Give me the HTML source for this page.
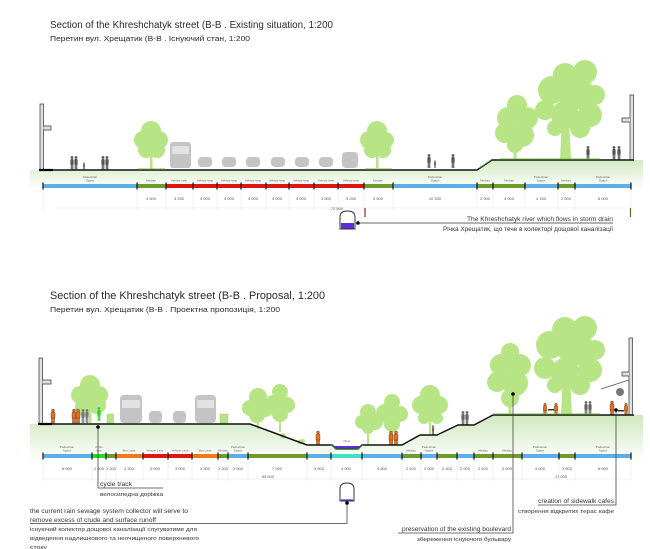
<!DOCTYPE html>
<html><head><meta charset="utf-8"><style>
html,body{margin:0;padding:0;background:#fff;}
svg{display:block;}
text{font-family:"Liberation Sans","DejaVu Sans",sans-serif;}
</style></head><body>
<svg width="650" height="549" viewBox="0 0 650 549" xmlns="http://www.w3.org/2000/svg">
<defs>
<linearGradient id="g1" x1="0" y1="160" x2="0" y2="190" gradientUnits="userSpaceOnUse"><stop offset="0" stop-color="#d2eac4"/><stop offset="1" stop-color="#ffffff"/></linearGradient>
<linearGradient id="g2" x1="0" y1="415" x2="0" y2="462" gradientUnits="userSpaceOnUse"><stop offset="0" stop-color="#cfe8bf"/><stop offset="1" stop-color="#ffffff"/></linearGradient>
<g id="pg"><circle cx="0" cy="-12.5" r="1.4"/><rect x="-1.6" y="-11" width="3.2" height="6" rx="1"/><rect x="-1.3" y="-5.5" width="1.1" height="5.5"/><rect x="0.2" y="-5.5" width="1.1" height="5.5"/></g>
<g id="po" fill="#e8701a" stroke="#333" stroke-width="0.4"><circle cx="0" cy="-12.5" r="1.5"/><rect x="-2" y="-11" width="4" height="6.5" rx="1"/><rect x="-1.5" y="-5" width="3" height="5"/></g>
</defs>

<!-- ============ TOP TITLES ============ -->
<text x="50" y="28" font-size="10" fill="#2a2a2a" textLength="283" lengthAdjust="spacingAndGlyphs">Section of the Khreshchatyk street  (B-B . Existing situation, 1:200</text>
<text x="50" y="41" font-size="7.5" fill="#2a2a2a" textLength="200" lengthAdjust="spacingAndGlyphs">Перетин вул. Хрещатик (B-B . Існуючий стан, 1:200</text>

<!-- ============ TOP SECTION ============ -->
<polygon points="30,170 477,170 492,160 643,160 643,192 30,192" fill="url(#g1)"/>

<!-- trees top -->
<g fill="#b7e585">
 <circle cx="151" cy="131" r="10"/><circle cx="143" cy="140" r="9"/><circle cx="159" cy="140" r="9"/><circle cx="146" cy="150" r="8"/><circle cx="157" cy="150" r="8"/><circle cx="151" cy="143" r="11"/><rect x="150" y="148" width="2.5" height="22"/>
 <circle cx="377" cy="131" r="10"/><circle cx="369" cy="140" r="9"/><circle cx="386" cy="140" r="8"/><circle cx="372" cy="150" r="8"/><circle cx="383" cy="150" r="8"/><circle cx="377" cy="143" r="11"/><rect x="376" y="148" width="2.5" height="20"/>
 <circle cx="517" cy="105" r="10"/><circle cx="508" cy="118" r="11"/><circle cx="527" cy="118" r="11"/><circle cx="505" cy="133" r="10"/><circle cx="522" cy="135" r="12"/><circle cx="515" cy="145" r="8"/><rect x="513.5" y="140" width="3" height="20"/>
 <circle cx="565" cy="75" r="12"/><circle cx="585" cy="72" r="12"/><circle cx="552" cy="90" r="14"/><circle cx="575" cy="92" r="18"/><circle cx="595" cy="95" r="10"/><circle cx="545" cy="110" r="10"/><circle cx="565" cy="115" r="14"/><circle cx="590" cy="115" r="12"/><circle cx="580" cy="128" r="10"/><circle cx="555" cy="128" r="8"/><polygon points="562,118 569,118 571,160 560,160"/>
</g>

<!-- vehicles top -->
<g fill="#c4c4c4">
 <rect x="170" y="142" width="21" height="26" rx="3"/>
 <rect x="198" y="157" width="14" height="10" rx="4"/><rect x="222" y="157" width="14" height="10" rx="4"/><rect x="246" y="157" width="14" height="10" rx="4"/><rect x="271" y="157" width="14" height="10" rx="4"/><rect x="295" y="157" width="14" height="10" rx="4"/><rect x="319" y="157" width="14" height="10" rx="4"/>
 <rect x="342" y="152" width="16" height="16" rx="4"/>
</g>
<g fill="#e2e2e2">
 <rect x="172" y="146" width="17" height="8" rx="1"/>
</g>

<!-- people top -->
<g fill="#555">
 <use href="#pg" x="72" y="170"/><use href="#pg" x="76" y="170"/>
 <use href="#pg" transform="translate(84,170) scale(0.55)"/>
 <use href="#pg" x="103" y="170"/><use href="#pg" x="107" y="170"/>
 <use href="#pg" x="429" y="168"/><use href="#pg" transform="translate(435,168) scale(0.55)"/>
 <use href="#pg" x="453" y="168"/>
 <use href="#pg" x="588" y="160"/><use href="#pg" x="614" y="160"/><use href="#pg" x="619" y="160"/>
</g>

<!-- buildings top -->
<rect x="40" y="104" width="3.5" height="66" fill="#e0e0e0" stroke="#333" stroke-width="0.7"/>
<polyline points="43.5,126 51,126 51,130 43.5,130" fill="#e0e0e0" stroke="#333" stroke-width="0.7"/>
<rect x="630" y="95" width="3.5" height="65" fill="#e0e0e0" stroke="#333" stroke-width="0.7"/>
<polyline points="630,118 622,118 622,122 630,122" fill="#e0e0e0" stroke="#333" stroke-width="0.7"/>

<!-- ground line top -->
<polyline points="39,170 477,170 492,160 634,160" fill="none" stroke="#111" stroke-width="1.5"/>
<line x1="39" y1="170" x2="53" y2="170" stroke="#000" stroke-width="2.2"/>
<line x1="138" y1="169" x2="165" y2="169" stroke="#7cc24a" stroke-width="1"/>
<line x1="365" y1="169" x2="392" y2="169" stroke="#7cc24a" stroke-width="1"/>
<line x1="479" y1="168" x2="491" y2="160" stroke="#5aa83a" stroke-width="1"/>
<line x1="500" y1="159" x2="600" y2="159" stroke="#7cc24a" stroke-width="1"/>

<!-- faint dimension lines top -->
<g stroke="#dbe4ee" stroke-width="0.5">
 <line x1="43" y1="189" x2="43" y2="210"/><line x1="137" y1="189" x2="137" y2="210"/><line x1="166" y1="189" x2="166" y2="210"/><line x1="193" y1="189" x2="193" y2="210"/><line x1="217" y1="189" x2="217" y2="210"/><line x1="241" y1="189" x2="241" y2="210"/><line x1="266" y1="189" x2="266" y2="210"/><line x1="289" y1="189" x2="289" y2="210"/><line x1="314" y1="189" x2="314" y2="210"/><line x1="338" y1="189" x2="338" y2="210"/><line x1="364" y1="189" x2="364" y2="210"/><line x1="393" y1="189" x2="393" y2="210"/><line x1="477" y1="189" x2="477" y2="210"/><line x1="493" y1="189" x2="493" y2="210"/><line x1="525" y1="189" x2="525" y2="210"/><line x1="558" y1="189" x2="558" y2="210"/><line x1="575" y1="189" x2="575" y2="210"/><line x1="631" y1="189" x2="631" y2="210"/>
 <line x1="57" y1="208" x2="631" y2="208"/>
</g>

<!-- color bar top -->
<g>
 <rect x="43" y="184" width="94" height="4" fill="#5daee8"/>
 <rect x="137" y="184" width="29" height="4" fill="#6e9a2e"/>
 <rect x="166" y="184" width="198" height="4" fill="#dd1515"/>
 <rect x="364" y="184" width="29" height="4" fill="#6e9a2e"/>
 <rect x="393" y="184" width="84" height="4" fill="#5daee8"/>
 <rect x="477" y="184" width="48" height="4" fill="#6e9a2e"/>
 <rect x="525" y="184" width="33" height="4" fill="#5daee8"/>
 <rect x="558" y="184" width="17" height="4" fill="#6e9a2e"/>
 <rect x="575" y="184" width="56" height="4" fill="#5daee8"/>
</g>
<g stroke="#111" stroke-width="1.2">
 <line x1="43" y1="182.5" x2="43" y2="189.5"/><line x1="137" y1="182.5" x2="137" y2="189.5"/><line x1="166" y1="182.5" x2="166" y2="189.5"/><line x1="193" y1="182.5" x2="193" y2="189.5"/><line x1="217" y1="182.5" x2="217" y2="189.5"/><line x1="241" y1="182.5" x2="241" y2="189.5"/><line x1="266" y1="182.5" x2="266" y2="189.5"/><line x1="289" y1="182.5" x2="289" y2="189.5"/><line x1="314" y1="182.5" x2="314" y2="189.5"/><line x1="338" y1="182.5" x2="338" y2="189.5"/><line x1="364" y1="182.5" x2="364" y2="189.5"/><line x1="393" y1="182.5" x2="393" y2="189.5"/><line x1="477" y1="182.5" x2="477" y2="189.5"/><line x1="493" y1="182.5" x2="493" y2="189.5"/><line x1="525" y1="182.5" x2="525" y2="189.5"/><line x1="558" y1="182.5" x2="558" y2="189.5"/><line x1="575" y1="182.5" x2="575" y2="189.5"/><line x1="631" y1="182.5" x2="631" y2="189.5"/>
</g>
<!-- bar labels top -->
<g font-size="3" fill="#666" text-anchor="middle">
 <text x="90" y="178">Pedestrian</text><text x="90" y="181.5">Space</text>
 <text x="151" y="181.5">Median</text>
 <text x="179" y="181.5">Vehicle lane</text><text x="205" y="181.5">Vehicle lane</text><text x="229" y="181.5">Vehicle lane</text><text x="253" y="181.5">Vehicle lane</text><text x="277" y="181.5">Vehicle lane</text><text x="301" y="181.5">Vehicle lane</text><text x="326" y="181.5">Vehicle lane</text><text x="351" y="181.5">Vehicle lane</text>
 <text x="378" y="181.5">Median</text>
 <text x="435" y="178">Pedestrian</text><text x="435" y="181.5">Space</text>
 <text x="485" y="181.5">Median</text><text x="509" y="181.5">Median</text>
 <text x="541" y="178">Pedestrian</text><text x="541" y="181.5">Space</text>
 <text x="566" y="181.5">Median</text>
 <text x="603" y="178">Pedestrian</text><text x="603" y="181.5">Space</text>
</g>
<!-- dims top -->
<g font-size="4" fill="#555" text-anchor="middle">
 <text x="151" y="200">3 500</text><text x="179" y="200">3 250</text><text x="205" y="200">3 000</text><text x="229" y="200">3 000</text><text x="253" y="200">3 000</text><text x="277" y="200">3 000</text><text x="301" y="200">3 000</text><text x="326" y="200">3 000</text><text x="351" y="200">3 250</text><text x="378" y="200">3 500</text><text x="435" y="200">10 300</text><text x="485" y="200">2 000</text><text x="509" y="200">4 000</text><text x="541" y="200">4 150</text><text x="566" y="200">2 000</text><text x="603" y="200">6 000</text>
 <text x="337" y="210">72 500</text>
</g>
<line x1="365" y1="208" x2="365" y2="217" stroke="#992222" stroke-width="1.2"/>
<line x1="630.5" y1="208" x2="630.5" y2="217" stroke="#5a6a2a" stroke-width="1.2"/>

<!-- storm drain icon top -->
<path d="M340,229 L340,217 Q340,211 347.5,211 Q355,211 355,217 L355,229 Z" fill="#fff" stroke="#333" stroke-width="1"/>
<rect x="341" y="223" width="13" height="5.5" fill="#5b2fd6"/>
<circle cx="358" cy="223" r="1.8" fill="#000"/>
<line x1="358" y1="223" x2="613" y2="223" stroke="#333" stroke-width="0.8"/>
<text x="613" y="221" font-size="6.3" fill="#333" text-anchor="end" textLength="146" lengthAdjust="spacingAndGlyphs">The Khreshchatyk river which flows in storm drain</text>
<text x="613" y="231" font-size="6" fill="#333" text-anchor="end" textLength="170" lengthAdjust="spacingAndGlyphs">Річка Хрещатик, що тече в колекторі дощової каналізації</text>

<!-- ============ BOTTOM TITLES ============ -->
<text x="50" y="299" font-size="11.3" fill="#2a2a2a" textLength="275" lengthAdjust="spacingAndGlyphs">Section of the Khreshchatyk street  (B-B . Proposal, 1:200</text>
<text x="50" y="312" font-size="7.5" fill="#2a2a2a" textLength="230" lengthAdjust="spacingAndGlyphs">Перетин вул. Хрещатик (B-B . Проектна пропозиція, 1:200</text>

<!-- ============ BOTTOM SECTION ============ -->
<polygon points="30,424 250,424 307,445 332,445 336,449 358,449 362,445 402,445 420,435 437,435 458,425 474,425 493,415 643,415 643,462 30,462" fill="url(#g2)"/>

<!-- trees bottom -->
<g fill="#b7e585">
 <circle cx="90" cy="385" r="10"/><circle cx="80" cy="395" r="9"/><circle cx="99" cy="395" r="9"/><circle cx="84" cy="407" r="9"/><circle cx="97" cy="405" r="9"/><circle cx="90" cy="396" r="11"/><rect x="89" y="405" width="2.5" height="18"/>
 <circle cx="258" cy="397" r="9"/><circle cx="250" cy="408" r="8"/><circle cx="265" cy="408" r="9"/><circle cx="257" cy="415" r="8"/><rect x="257" y="412" width="2" height="17"/>
 <circle cx="280" cy="392" r="8"/><circle cx="273" cy="404" r="9"/><circle cx="287" cy="405" r="8"/><circle cx="280" cy="414" r="8"/><rect x="279" y="412" width="2" height="20"/>
 <circle cx="368" cy="412" r="8"/><circle cx="362" cy="422" r="7"/><circle cx="375" cy="422" r="8"/><circle cx="368" cy="428" r="6"/><rect x="367" y="426" width="2" height="19"/>
 <circle cx="392" cy="402" r="8"/><circle cx="385" cy="413" r="9"/><circle cx="400" cy="414" r="8"/><circle cx="392" cy="424" r="8"/><rect x="391" y="422" width="2" height="23"/>
 <circle cx="430" cy="395" r="10"/><circle cx="421" cy="405" r="9"/><circle cx="439" cy="405" r="9"/><circle cx="430" cy="412" r="10"/><circle cx="424" cy="418" r="6"/><circle cx="437" cy="418" r="6"/><rect x="429" y="415" width="2" height="20"/>
 <circle cx="510" cy="352" r="9"/><circle cx="501" cy="365" r="11"/><circle cx="520" cy="365" r="11"/><circle cx="497" cy="382" r="10"/><circle cx="515" cy="383" r="13"/><circle cx="510" cy="398" r="9"/><rect x="508.5" y="395" width="3" height="20"/>
 <circle cx="565" cy="330" r="13"/><circle cx="585" cy="328" r="12"/><circle cx="550" cy="345" r="14"/><circle cx="575" cy="348" r="18"/><circle cx="595" cy="350" r="10"/><circle cx="545" cy="368" r="11"/><circle cx="565" cy="372" r="14"/><circle cx="590" cy="370" r="12"/><circle cx="580" cy="385" r="10"/><circle cx="555" cy="385" r="8"/><polygon points="563,375 570,375 572,415 561,415"/>
 <rect x="107" y="414" width="6.5" height="9" stroke="#8cc860" stroke-width="0.4"/>
 <rect x="220" y="414" width="8" height="9" stroke="#8cc860" stroke-width="0.4"/>
 <circle cx="283" cy="436" r="3"/><circle cx="300" cy="442" r="2.5"/><circle cx="303" cy="441" r="2"/>
</g>

<!-- vehicles bottom -->
<g fill="#c4c4c4">
 <rect x="120" y="395" width="22" height="28" rx="4"/>
 <rect x="149" y="411" width="13" height="12" rx="4"/>
 <rect x="173" y="411" width="13" height="12" rx="4"/>
 <rect x="195" y="395" width="21" height="28" rx="4"/>
</g>
<g fill="#e2e2e2"><rect x="122" y="400" width="18" height="8" rx="1"/><rect x="197" y="400" width="17" height="8" rx="1"/></g>

<!-- people bottom -->
<use href="#po" x="53" y="423"/>
<use href="#po" x="74" y="423"/><use href="#po" x="78" y="423"/>
<g fill="#777"><use href="#pg" x="83" y="423"/><use href="#pg" x="87" y="423"/></g>
<g fill="#33cc33"><use href="#pg" x="99" y="421"/></g>
<use href="#po" x="318" y="445"/>
<use href="#po" x="391" y="445"/><use href="#po" x="396" y="445"/>
<g fill="#666"><use href="#pg" transform="translate(433,435) scale(0.7)"/>
<use href="#pg" x="463" y="425"/><use href="#pg" x="467" y="425"/>
<use href="#pg" x="586" y="415"/><use href="#pg" x="590" y="415"/></g>
<use href="#po" transform="translate(545,415) scale(0.85)"/><use href="#po" transform="translate(556,415) scale(0.85)"/>
<rect x="548" y="409" width="6" height="1.5" fill="#333"/>
<use href="#po" x="612" y="415"/><use href="#po" transform="translate(626,415) scale(0.85)"/>
<rect x="618" y="410" width="6" height="1.5" fill="#333"/>

<!-- buildings bottom -->
<rect x="39" y="358" width="3.5" height="66" fill="#e0e0e0" stroke="#333" stroke-width="0.7"/>
<polyline points="42.5,380 51,380 51,384 42.5,384" fill="#e0e0e0" stroke="#333" stroke-width="0.7"/>
<rect x="629" y="338" width="3.5" height="77" fill="#e0e0e0" stroke="#333" stroke-width="0.7"/>
<polyline points="629,372 622,372 622,376 629,376" fill="#e0e0e0" stroke="#333" stroke-width="0.7"/>
<polyline points="601,389 629,380 629,398" fill="none" stroke="#555" stroke-width="0.8"/>
<circle cx="620" cy="392" r="4" fill="#777"/>

<!-- river -->
<polygon points="334,446 360,446 357,449 337,449" fill="#5b2fd6"/>

<!-- ground line bottom -->
<polyline points="38,424 250,424 307,445 332,445 336,449 358,449 362,445 402,445 420,435 437,435 458,425 474,425 493,415 634,415" fill="none" stroke="#111" stroke-width="1.5"/>
<line x1="38" y1="424" x2="52" y2="424" stroke="#000" stroke-width="2.2"/>
<polyline points="331,445 336,449 358,449 363,445" fill="none" stroke="#3bb03b" stroke-width="0.8"/>
<line x1="493" y1="414" x2="600" y2="414" stroke="#7cc24a" stroke-width="1"/>

<!-- faint dims bottom -->
<g stroke="#dbe4ee" stroke-width="0.5">
 <line x1="43" y1="459" x2="43" y2="481"/><line x1="92" y1="459" x2="92" y2="481"/><line x1="106" y1="459" x2="106" y2="481"/><line x1="116" y1="459" x2="116" y2="481"/><line x1="143" y1="459" x2="143" y2="481"/><line x1="168" y1="459" x2="168" y2="481"/><line x1="192" y1="459" x2="192" y2="481"/><line x1="218" y1="459" x2="218" y2="481"/><line x1="228" y1="459" x2="228" y2="481"/><line x1="248" y1="459" x2="248" y2="481"/><line x1="307" y1="459" x2="307" y2="481"/><line x1="331" y1="459" x2="331" y2="481"/><line x1="362" y1="459" x2="362" y2="481"/><line x1="402" y1="459" x2="402" y2="481"/><line x1="421" y1="459" x2="421" y2="481"/><line x1="437" y1="459" x2="437" y2="481"/><line x1="457" y1="459" x2="457" y2="481"/><line x1="474" y1="459" x2="474" y2="481"/><line x1="493" y1="459" x2="493" y2="481"/><line x1="522" y1="459" x2="522" y2="481"/><line x1="559" y1="459" x2="559" y2="481"/><line x1="575" y1="459" x2="575" y2="481"/><line x1="631" y1="459" x2="631" y2="481"/>
 <line x1="43" y1="479" x2="631" y2="479"/>
</g>

<!-- color bar bottom -->
<g>
 <rect x="43" y="454" width="49" height="4" fill="#5daee8"/>
 <rect x="92" y="454" width="14" height="4" fill="#22dd22"/>
 <rect x="106" y="454" width="10" height="4" fill="#6e9a2e"/>
 <rect x="116" y="454" width="27" height="4" fill="#f07a18"/>
 <rect x="143" y="454" width="49" height="4" fill="#dd1515"/>
 <rect x="192" y="454" width="26" height="4" fill="#f07a18"/>
 <rect x="218" y="454" width="10" height="4" fill="#6e9a2e"/>
 <rect x="228" y="454" width="20" height="4" fill="#5daee8"/>
 <rect x="248" y="454" width="59" height="4" fill="#6e9a2e"/>
 <rect x="307" y="454" width="24" height="4" fill="#5daee8"/>
 <rect x="331" y="454" width="31" height="4" fill="#3fe0c6"/>
 <rect x="362" y="454" width="40" height="4" fill="#5daee8"/>
 <rect x="402" y="454" width="19" height="4" fill="#6e9a2e"/>
 <rect x="421" y="454" width="16" height="4" fill="#5daee8"/>
 <rect x="437" y="454" width="20" height="4" fill="#6e9a2e"/>
 <rect x="457" y="454" width="17" height="4" fill="#5daee8"/>
 <rect x="474" y="454" width="48" height="4" fill="#6e9a2e"/>
 <rect x="522" y="454" width="37" height="4" fill="#5daee8"/>
 <rect x="559" y="454" width="16" height="4" fill="#6e9a2e"/>
 <rect x="575" y="454" width="56" height="4" fill="#5daee8"/>
</g>
<g stroke="#111" stroke-width="1.2">
 <line x1="43" y1="452.5" x2="43" y2="459.5"/><line x1="92" y1="452.5" x2="92" y2="459.5"/><line x1="106" y1="452.5" x2="106" y2="459.5"/><line x1="116" y1="452.5" x2="116" y2="459.5"/><line x1="143" y1="452.5" x2="143" y2="459.5"/><line x1="168" y1="452.5" x2="168" y2="459.5"/><line x1="192" y1="452.5" x2="192" y2="459.5"/><line x1="218" y1="452.5" x2="218" y2="459.5"/><line x1="228" y1="452.5" x2="228" y2="459.5"/><line x1="248" y1="452.5" x2="248" y2="459.5"/><line x1="307" y1="452.5" x2="307" y2="459.5"/><line x1="331" y1="452.5" x2="331" y2="459.5"/><line x1="362" y1="452.5" x2="362" y2="459.5"/><line x1="402" y1="452.5" x2="402" y2="459.5"/><line x1="421" y1="452.5" x2="421" y2="459.5"/><line x1="437" y1="452.5" x2="437" y2="459.5"/><line x1="457" y1="452.5" x2="457" y2="459.5"/><line x1="474" y1="452.5" x2="474" y2="459.5"/><line x1="493" y1="452.5" x2="493" y2="459.5"/><line x1="522" y1="452.5" x2="522" y2="459.5"/><line x1="559" y1="452.5" x2="559" y2="459.5"/><line x1="575" y1="452.5" x2="575" y2="459.5"/><line x1="631" y1="452.5" x2="631" y2="459.5"/>
</g>
<!-- bar labels bottom -->
<g font-size="3" fill="#666" text-anchor="middle">
 <text x="67" y="448">Pedestrian</text><text x="67" y="451.5">Space</text>
 <text x="99" y="448">Cycle</text><text x="99" y="451.5">lane</text>
 <text x="129" y="451.5">Bus Lane</text><text x="155" y="451.5">Vehicle Lane</text><text x="180" y="451.5">Vehicle Lane</text><text x="205" y="451.5">Bus Lane</text>
 <text x="223" y="451.5">Median</text>
 <text x="238" y="448">Pedestrian</text><text x="238" y="451.5">Space</text>
 <text x="347" y="442">River</text>
 <text x="411" y="451.5">Median</text>
 <text x="429" y="448">Pedestrian</text><text x="429" y="451.5">Space</text>
 <text x="483" y="451.5">Median</text><text x="507" y="451.5">Median</text>
 <text x="540" y="448">Pedestrian</text><text x="540" y="451.5">Space</text>
 <text x="603" y="448">Pedestrian</text><text x="603" y="451.5">Space</text>
</g>
<!-- dims bottom -->
<g font-size="4" fill="#555" text-anchor="middle">
 <text x="67" y="470">6 000</text><text x="99" y="470">1 500</text><text x="111" y="470">1 200</text><text x="129" y="470">3 300</text><text x="155" y="470">3 000</text><text x="180" y="470">3 000</text><text x="205" y="470">3 300</text><text x="223" y="470">1 200</text><text x="238" y="470">2 500</text><text x="277" y="470">7 200</text><text x="319" y="470">3 000</text><text x="346" y="470">4 000</text><text x="382" y="470">4 800</text><text x="411" y="470">2 400</text><text x="429" y="470">2 000</text><text x="447" y="470">2 400</text><text x="465" y="470">2 000</text><text x="483" y="470">2 400</text><text x="507" y="470">3 600</text><text x="540" y="470">4 500</text><text x="567" y="470">2 000</text><text x="603" y="470">6 000</text>
 <text x="268" y="478">55 500</text><text x="561" y="478">17 000</text>
</g>

<!-- annotations bottom -->
<g stroke="#444" stroke-width="0.8" fill="none">
 <polyline points="98,427 98,488 163,488"/>
 <polyline points="30,523.5 347,523.5 347,503"/>
 <polyline points="398,533 513,533 513,394"/>
 <polyline points="538,505 616,505 616,410"/>
</g>
<g fill="#000">
 <circle cx="98" cy="427" r="1.8"/><circle cx="347" cy="503" r="1.8"/><circle cx="513" cy="394" r="1.8"/><circle cx="616" cy="410" r="1.8"/>
</g>
<path d="M340,501 L340,489 Q340,483 347,483 Q354,483 354,489 L354,501 Z" fill="#fff" stroke="#333" stroke-width="1"/>
<line x1="341" y1="500" x2="353" y2="500" stroke="#5b2fd6" stroke-width="1.3"/>

<g fill="#333">
 <text x="100" y="486" font-size="6.5" textLength="32" lengthAdjust="spacingAndGlyphs">cycle track</text>
 <text x="100" y="496" font-size="5.5" textLength="63" lengthAdjust="spacingAndGlyphs">велосипедна доріжка</text>
 <text x="30" y="513" font-size="6.2" textLength="158" lengthAdjust="spacingAndGlyphs">the current rain sewage system collector will serve to</text>
 <text x="30" y="522" font-size="6.2" textLength="126" lengthAdjust="spacingAndGlyphs">remove excess of crude and surface runoff</text>
 <text x="30" y="531" font-size="5.8" textLength="167" lengthAdjust="spacingAndGlyphs">існуючий колектор дощової каналізації слугуватиме для</text>
 <text x="30" y="540" font-size="5.8" textLength="169" lengthAdjust="spacingAndGlyphs">відведення надлишкового та неочищеного поверхневого</text>
 <text x="30" y="549" font-size="5.8" textLength="17" lengthAdjust="spacingAndGlyphs">стоку</text>
 <text x="511" y="531" font-size="6.2" text-anchor="end" textLength="109" lengthAdjust="spacingAndGlyphs">preservation of the existing boulevard</text>
 <text x="511" y="541" font-size="5.8" text-anchor="end" textLength="94" lengthAdjust="spacingAndGlyphs">збереження існуючого бульвару</text>
 <text x="614" y="503" font-size="6.2" text-anchor="end" textLength="76" lengthAdjust="spacingAndGlyphs">creation of sidewalk cafes</text>
 <text x="614" y="513" font-size="5.8" text-anchor="end" textLength="96" lengthAdjust="spacingAndGlyphs">створення відкритих терас кафе</text>
</g>
</svg>
</body></html>
